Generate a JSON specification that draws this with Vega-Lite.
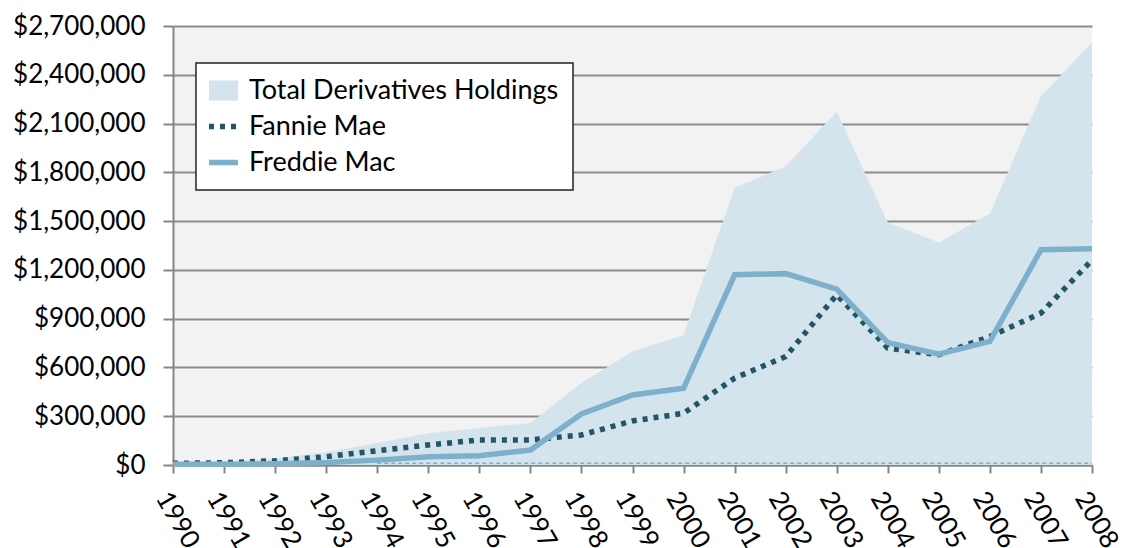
{
  "$schema": "https://vega.github.io/schema/vega-lite/v6.json",
  "width": 919,
  "height": 439,
  "autosize": {"type": "none"},
  "padding": {"left": 173, "top": 26, "right": 33, "bottom": 83},
  "background": "white",
  "config": {
    "view": {"fill": "#f2f2f2", "stroke": null},
    "font": "Lato",
    "axis": {
      "labelFont": "Lato",
      "labelFontSize": 26,
      "labelColor": "#000000",
      "domainColor": "#868686",
      "domainWidth": 2,
      "tickColor": "#868686",
      "tickWidth": 2,
      "gridColor": "#8c8c8c",
      "gridWidth": 2,
      "title": null
    }
  },
  "data": {
    "values": [
      {"year": "1990", "total": 15000, "fannie": 10000, "freddie": 5000, "other": null},
      {"year": "1991", "total": 20000, "fannie": 14000, "freddie": 5000, "other": null},
      {"year": "1992", "total": 40000, "fannie": 26000, "freddie": 8000, "other": null},
      {"year": "1993", "total": 78000, "fannie": 51000, "freddie": 15000, "other": null},
      {"year": "1994", "total": 135000, "fannie": 88000, "freddie": 30000, "other": 10000},
      {"year": "1995", "total": 195000, "fannie": 123000, "freddie": 51000, "other": 10000},
      {"year": "1996", "total": 228000, "fannie": 154000, "freddie": 57000, "other": 10000},
      {"year": "1997", "total": 258000, "fannie": 154000, "freddie": 92000, "other": 10000},
      {"year": "1998", "total": 505000, "fannie": 185000, "freddie": 314000, "other": 10000},
      {"year": "1999", "total": 698000, "fannie": 271000, "freddie": 431000, "other": 10000},
      {"year": "2000", "total": 800000, "fannie": 318000, "freddie": 472000, "other": 10000},
      {"year": "2001", "total": 1705000, "fannie": 534000, "freddie": 1170000, "other": 10000},
      {"year": "2002", "total": 1837000, "fannie": 667000, "freddie": 1177000, "other": 10000},
      {"year": "2003", "total": 2172000, "fannie": 1047000, "freddie": 1082000, "other": 10000},
      {"year": "2004", "total": 1492000, "fannie": 719000, "freddie": 753000, "other": 10000},
      {"year": "2005", "total": 1369000, "fannie": 678000, "freddie": 682000, "other": 10000},
      {"year": "2006", "total": 1547000, "fannie": 790000, "freddie": 760000, "other": 10000},
      {"year": "2007", "total": 2268000, "fannie": 934000, "freddie": 1324000, "other": 10000},
      {"year": "2008", "total": 2600000, "fannie": 1260000, "freddie": 1330000, "other": 10000}
    ]
  },
  "encoding": {
    "x": {
      "field": "year",
      "type": "ordinal",
      "scale": {"type": "point", "padding": 0},
      "axis": {
        "labelAngle": 60,
        "labelAlign": "left",
        "labelBaseline": "top",
        "tickSize": 8,
        "labelPadding": 14,
        "grid": false,
        "title": null
      }
    }
  },
  "layer": [
    {
      "mark": {"type": "area", "opacity": 1},
      "encoding": {
        "y": {
          "field": "total",
          "type": "quantitative",
          "scale": {"domain": [0, 2700000], "nice": false},
          "axis": {
            "values": [0, 300000, 600000, 900000, 1200000, 1500000, 1800000, 2100000, 2400000, 2700000],
            "format": "$,.0f",
            "tickSize": 10,
            "labelPadding": 18,
            "grid": true,
            "title": null
          }
        },
        "color": {
          "datum": "Total Derivatives Holdings",
          "type": "nominal",
          "scale": {
            "domain": ["Total Derivatives Holdings", "Fannie Mae", "Freddie Mac"],
            "range": ["#d4e4ed", "#245468", "#7fb0cb"]
          },
          "legend": {
            "orient": "none",
            "legendX": 23,
            "legendY": 37,
            "title": null,
            "padding": 14,
            "strokeColor": "#222222",
            "fillColor": "#ffffff",
            "labelFont": "Lato",
            "labelFontSize": 27,
            "labelColor": "#000000",
            "labelLimit": 600,
            "symbolSize": 841,
            "labelOffset": 12,
            "rowPadding": 8,
            "symbolOpacity": 1,
            "encode": {
              "legend": {"update": {"strokeWidth": {"value": 1.5}}},
              "symbols": {
                "update": {
                  "shape": {"signal": "datum.value === 'Total Derivatives Holdings' ? 'M-1,-0.69H1V0.69H-1Z' : 'stroke'"},
                  "fill": {"signal": "datum.value === 'Total Derivatives Holdings' ? '#d4e4ed' : 'transparent'"},
                  "stroke": {"signal": "datum.value === 'Total Derivatives Holdings' ? 'transparent' : (datum.value === 'Fannie Mae' ? '#245468' : '#7fb0cb')"},
                  "strokeWidth": {"signal": "datum.value === 'Total Derivatives Holdings' ? 0 : 5.5"},
                  "strokeDash": {"signal": "datum.value === 'Fannie Mae' ? [5, 6] : [1, 0]"},
                  "opacity": {"value": 1}
                }
              }
            }
          }
        }
      }
    },
    {
      "mark": {"type": "line", "color": "#7fb0cb", "strokeWidth": 1.5, "strokeDash": [4, 3]},
      "encoding": {
        "y": {"field": "other", "type": "quantitative", "title": null}
      }
    },
    {
      "mark": {"type": "line", "strokeWidth": 5.5, "strokeDash": [5, 6], "strokeCap": "butt"},
      "encoding": {
        "y": {"field": "fannie", "type": "quantitative", "title": null},
        "color": {"datum": "Fannie Mae", "type": "nominal"}
      }
    },
    {
      "mark": {"type": "line", "strokeWidth": 5.5},
      "encoding": {
        "y": {"field": "freddie", "type": "quantitative", "title": null},
        "color": {"datum": "Freddie Mac", "type": "nominal"}
      }
    }
  ]
}
